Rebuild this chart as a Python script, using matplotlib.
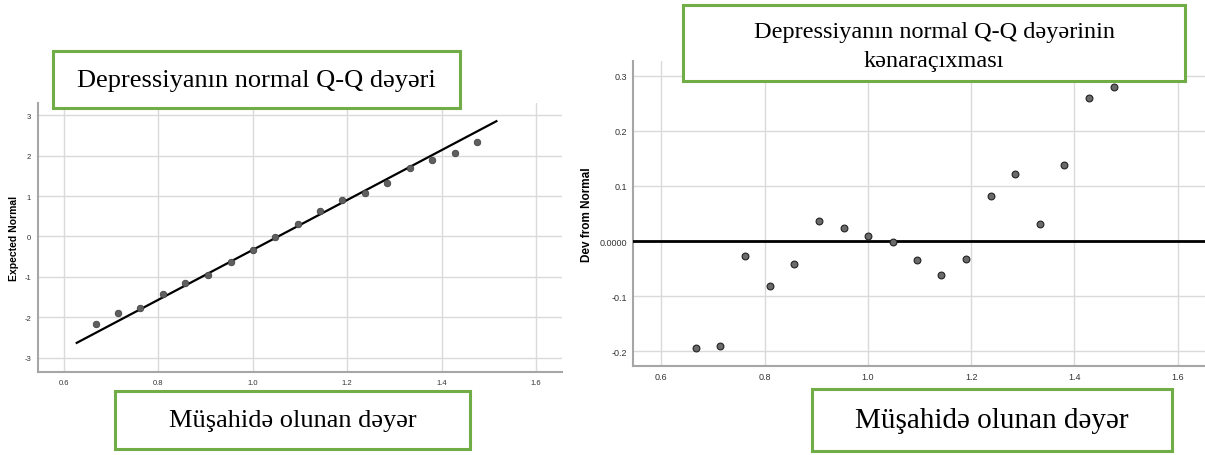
import matplotlib.pyplot as plt
from matplotlib.patches import Rectangle

plt.rcParams['font.family'] = ['Liberation Sans', 'DejaVu Sans']
plt.rcParams['axes.unicode_minus'] = False

# observed values (same for both panels)
observed = [0.667, 0.714, 0.762, 0.810, 0.857, 0.905, 0.953, 1.000, 1.048,
            1.095, 1.142, 1.190, 1.238, 1.285, 1.333, 1.380, 1.428, 1.476]
expected = [-2.17, -1.88, -1.76, -1.41, -1.15, -0.94, -0.63, -0.33, -0.02,
            0.31, 0.63, 0.89, 1.07, 1.32, 1.70, 1.89, 2.06, 2.34]
deviation = [-0.195, -0.191, -0.028, -0.081, -0.041, 0.036, 0.024, 0.010, -0.001,
             -0.035, -0.061, -0.032, 0.081, 0.122, 0.031, 0.139, 0.259, 0.280]
# reference line of the Q-Q plot
line_x = [0.627, 1.516]
line_y = [-2.63, 2.85]

x_ticks = [0.6, 0.8, 1.0, 1.2, 1.4, 1.6]
x_labels = ['0.6', '0.8', '1.0', '1.2', '1.4', '1.6']
qq_ticks = [-3, -2, -1, 0, 1, 2, 3]
qq_labels = ['-3', '-2', '-1', '0', '1', '2', '3']
dev_ticks = [-0.2, -0.1, 0.0, 0.1, 0.2, 0.3]
dev_labels = ['-0.2', '-0.1', '0.0000', '0.1', '0.2', '0.3']

W, H = 1205, 456
fig = plt.figure(figsize=(W / 100, H / 100), dpi=100)

grid_c = '#dadada'
spine_c = '#a6a6a6'
green = '#70ad47'


def style(ax, fs, pad):
    for s in ['top', 'right']:
        ax.spines[s].set_visible(False)
    for s in ['left', 'bottom']:
        ax.spines[s].set_color(spine_c)
        ax.spines[s].set_linewidth(1.5)
    ax.grid(True, color=grid_c, linewidth=1.0)
    ax.set_axisbelow(True)
    ax.tick_params(length=0, labelsize=fs, labelcolor='#333333', pad=pad)
    ax.set_xticks(x_ticks)
    ax.set_xticklabels(x_labels)
    ax.set_xlim(0.545, 1.655)


def ax_px(x0, y0, x1, y1):
    return fig.add_axes([x0 / W, 1 - y1 / H, (x1 - x0) / W, (y1 - y0) / H])


# left: normal Q-Q plot
ax1 = ax_px(38, 104, 562, 373)
style(ax1, 5.5, 5)
ax1.set_ylim(-3.35, 3.3)
ax1.set_yticks(qq_ticks)
ax1.set_yticklabels(qq_labels)
ax1.plot(line_x, line_y, color='black', linewidth=1.6, zorder=3)
ax1.scatter(observed, expected, s=22, color='#5f5f5f', edgecolor='#444444',
            linewidth=0.6, zorder=4)
ax1.set_ylabel('Expected Normal', fontsize=7.5, fontweight='bold', labelpad=4)

# right: detrended Q-Q plot
ax2 = ax_px(633, 62, 1206, 367)
style(ax2, 6.5, 4)
ax2.set_ylim(-0.227, 0.327)
ax2.set_yticks(dev_ticks)
ax2.set_yticklabels(dev_labels)
ax2.axhline(0, color='black', linewidth=2.0, zorder=3)
ax2.scatter(observed, deviation, s=24, color='#6a6a6a', edgecolor='#222222',
            linewidth=0.8, zorder=4)
ax2.set_ylabel('Dev from Normal', fontsize=8.5, fontweight='bold', labelpad=5)


def box(x0, y0, x1, y1, text, fs, ls=1.2, dy=0):
    fig.patches.append(Rectangle((x0 / W, 1 - y1 / H), (x1 - x0) / W, (y1 - y0) / H,
                                 transform=fig.transFigure, facecolor='white',
                                 edgecolor=green, linewidth=2.2, zorder=10))
    fig.text((x0 + x1) / 2 / W, 1 - ((y0 + y1) / 2 + dy) / H, text, ha='center', va='center',
             fontsize=fs, family='Liberation Serif', linespacing=ls, zorder=11)


box(53, 52, 460, 109, 'Depressiyanın normal Q-Q dəyəri', 19)
box(115, 392, 470, 450, 'Müşahidə olunan dəyər', 19)
box(683, 6, 1185, 82, 'Depressiyanın normal Q-Q dəyərinin\nkənaraçıxması', 17.5, 1.45, 3)
box(812, 390, 1172, 452, 'Müşahidə olunan dəyər', 21)

fig.savefig('out.png', dpi=100)
